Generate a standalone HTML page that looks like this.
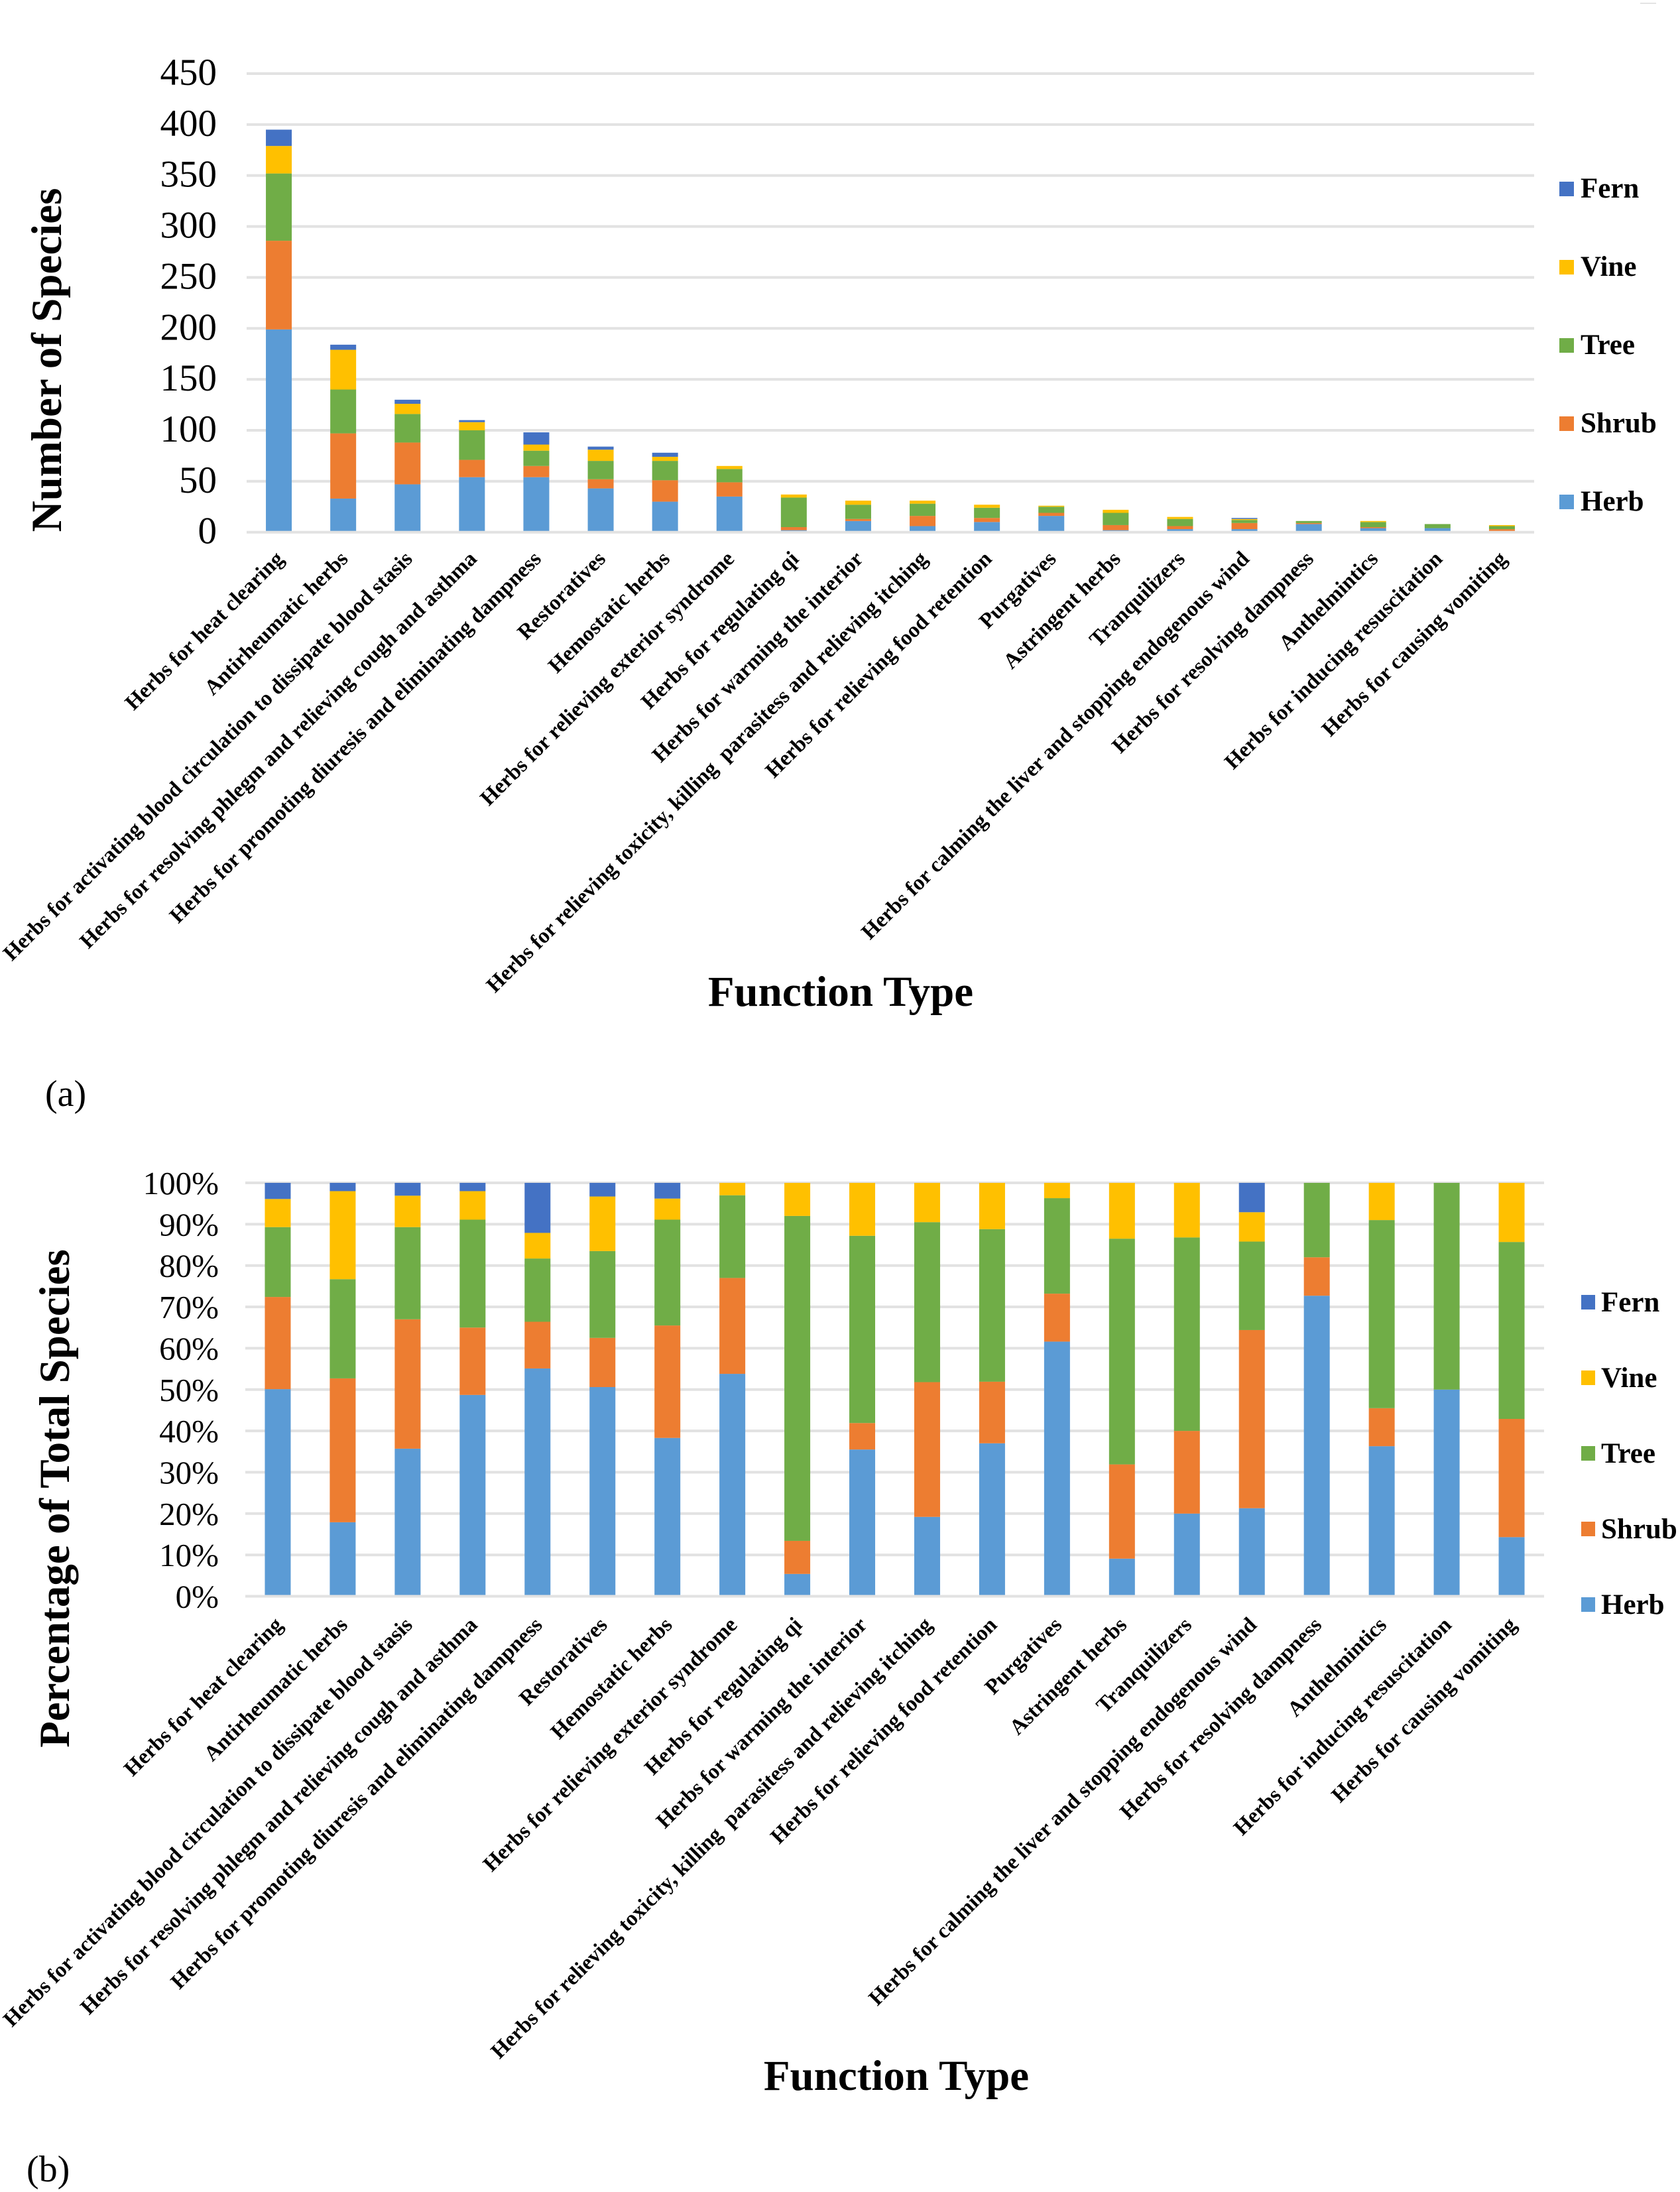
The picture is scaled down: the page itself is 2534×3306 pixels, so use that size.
<!DOCTYPE html>
<html lang="en">
<head>
<meta charset="utf-8">
<title>Herb function types by growth form</title>
<style>
html,body{margin:0;padding:0;background:#fff;width:2534px;height:3306px;overflow:hidden}
svg{display:block;font-family:"Liberation Serif","Times New Roman",serif}
.cat{font-weight:bold;font-size:32.6px;white-space:pre}
.title{font-weight:bold;font-size:65px}
.leg{font-weight:bold}
</style>
</head>
<body>
<svg id="fig" xmlns="http://www.w3.org/2000/svg" width="2534" height="3306" viewBox="0 0 2534 3306">
  <rect x="0" y="0" width="2534" height="3306" fill="#fff"/>
  <rect x="2474" y="4" width="24" height="2" fill="#e4e4e4"/>
  <g id="chart-a"></g>
  <g id="chart-b"></g>
  <text class="title" text-anchor="middle" transform="translate(92,543) rotate(-90)">Number of Species</text>
  <text class="title" text-anchor="middle" x="1268" y="1517">Function Type</text>
  <text font-size="56" x="68" y="1668">(a)</text>
  <text class="title" text-anchor="middle" transform="translate(104,2260) rotate(-90)">Percentage of Total Species</text>
  <text class="title" text-anchor="middle" x="1352" y="3152">Function Type</text>
  <text font-size="56" x="40" y="3290">(b)</text>
</svg>
<script>
const categories = [
  "Herbs for heat clearing",
  "Antirheumatic herbs",
  "Herbs for activating blood circulation to dissipate blood stasis",
  "Herbs for resolving phlegm and relieving cough and asthma",
  "Herbs for promoting diuresis and eliminating dampness",
  "Restoratives",
  "Hemostatic herbs",
  "Herbs for relieving exterior syndrome",
  "Herbs for regulating qi",
  "Herbs for warming the interior",
  "Herbs for relieving toxicity, killing  parasitess and relieving itching",
  "Herbs for relieving food retention",
  "Purgatives",
  "Astringent herbs",
  "Tranquilizers",
  "Herbs for calming the liver and stopping endogenous wind",
  "Herbs for resolving dampness",
  "Anthelmintics",
  "Herbs for inducing resuscitation",
  "Herbs for causing vomiting"
];
const seriesNames = ["Herb","Shrub","Tree","Vine","Fern"];
const seriesColors = ["#5B9BD5","#ED7D31","#70AD47","#FFC000","#4472C4"];

const countHerb  = [199,33,47,54,54,43,30,35,2,11,6,10,16,2,3,3,8,4,4,1];
const countShrub = [87,64,41,17,11,9,21,14,3,2,10,4,3,5,3,6,1,1,0,2];
const countTree  = [66,43,28,29,15,18,19,13,29,14,12,10,6,12,7,3,2,5,4,3];
const countVine  = [27,39,10,8,6,11,4,3,3,4,3,3,1,3,2,1,0,1,0,1];
const countFern  = [16,5,4,2,12,3,4,0,0,0,0,0,0,0,0,1,0,0,0,0];
const countTicks = [0,50,100,150,200,250,300,350,400,450];

const pctHerb  = [50.1,17.9,35.7,48.7,55.1,50.6,38.3,53.8,5.4,35.5,19.2,37,61.6,9.1,20,21.3,72.7,36.3,50,14.3];
const pctShrub = [22.3,34.8,31.3,16.3,11.3,11.9,27.2,23.2,8,6.4,32.6,14.9,11.6,22.8,20,43.1,9.3,9.2,0,28.6];
const pctTree  = [16.9,24,22.3,26.1,15.3,21,25.6,20,78.6,45.3,38.7,36.9,23.1,54.6,46.8,21.4,18,45.5,50,42.8];
const pctVine  = [6.8,21.3,7.6,6.9,6.2,13.2,5.1,3,8,12.8,9.5,11.2,3.7,13.5,13.2,7.1,0,9,0,14.3];
const pctFern  = [3.9,2,3.1,2,12.1,3.3,3.8,0,0,0,0,0,0,0,0,7.1,0,0,0,0];
const pctTicks = [0,10,20,30,40,50,60,70,80,90,100];

const NS = "http://www.w3.org/2000/svg";
function make(tag, parent, attrs, text){
  const el = document.createElementNS(NS, tag);
  for (const k in attrs) el.setAttribute(k, attrs[k]);
  if (text !== undefined) el.textContent = text;
  parent.appendChild(el);
  return el;
}

function drawChart(cfg){
  const root = document.getElementById(cfg.rootId);
  const xBand = (cfg.right - cfg.left) / categories.length;
  const xCenter = i => cfg.left + xBand * (i + 0.5);
  const yScale = v => cfg.y0 - (v / cfg.max) * (cfg.y0 - cfg.yTop);

  // gridlines and tick labels
  cfg.ticks.forEach(t => {
    if (t !== 0) {
      const line = make("rect", root, {x:cfg.left, y:yScale(t)-2, width:cfg.right-cfg.left, height:4, fill:"#e2e2e2"});
      
      
    }
    const label = make("text", root, {x:cfg.tickX, y:yScale(t)+17, "text-anchor":"end", "font-size":cfg.tickSize}, t + cfg.suffix);
    
    
  });

  // stacked bars
  categories.forEach((c, i) => {
    let acc = 0;
    cfg.series.forEach((vals, s) => {
      const v = vals[i];
      if (v > 0) {
        const top = yScale(acc + v);
        const bottom = yScale(acc);
        const bar = make("rect", root, {x:xCenter(i)-cfg.barW/2, y:top, width:cfg.barW, height:bottom-top, fill:seriesColors[s]});
        
        
      }
      acc += v;
    });
    const lab = make("text", root, {class:"cat", "text-anchor":"end", transform:"translate(" + (xCenter(i)+cfg.labelDx) + "," + (cfg.y0+cfg.labelDy) + ") rotate(-45)"}, c);
    
    
  });

  // zero line sits over the bar bases
  const axis = make("rect", root, {x:cfg.left, y:cfg.y0-2, width:cfg.right-cfg.left, height:4, fill:"#e2e2e2"});
  
  

  // legend, top entry is the last series
  seriesNames.slice().reverse().forEach((n, k) => {
    const y = cfg.legTop + k * cfg.legStep;
    const sw = make("rect", root, {x:cfg.legX, y:y, width:cfg.legSw, height:22, fill:seriesColors[seriesNames.length-1-k]});
    
    
    const tx = make("text", root, {class:"leg", x:cfg.legTextX, y:y+cfg.legBase, "font-size":cfg.legSize}, n);
    
    
  });
}

drawChart({
  rootId:"chart-a", left:372, right:2314, y0:802.7, yTop:111, max:450,
  ticks:countTicks, suffix:"", tickX:327, tickSize:57, barW:39, labelDx:9, labelDy:42,
  series:[countHerb,countShrub,countTree,countVine,countFern],
  legX:2352, legTextX:2384, legTop:274, legStep:118, legSw:22, legBase:24, legSize:43
});
drawChart({
  rootId:"chart-b", left:370, right:2329, y0:2407.5, yTop:1784, max:100,
  ticks:pctTicks, suffix:"%", tickX:330, tickSize:49, barW:39, labelDx:9, labelDy:45,
  series:[pctHerb,pctShrub,pctTree,pctVine,pctFern],
  legX:2385, legTextX:2415, legTop:1953, legStep:114, legSw:21, legBase:25, legSize:43
});
</script>
</body>
</html>
